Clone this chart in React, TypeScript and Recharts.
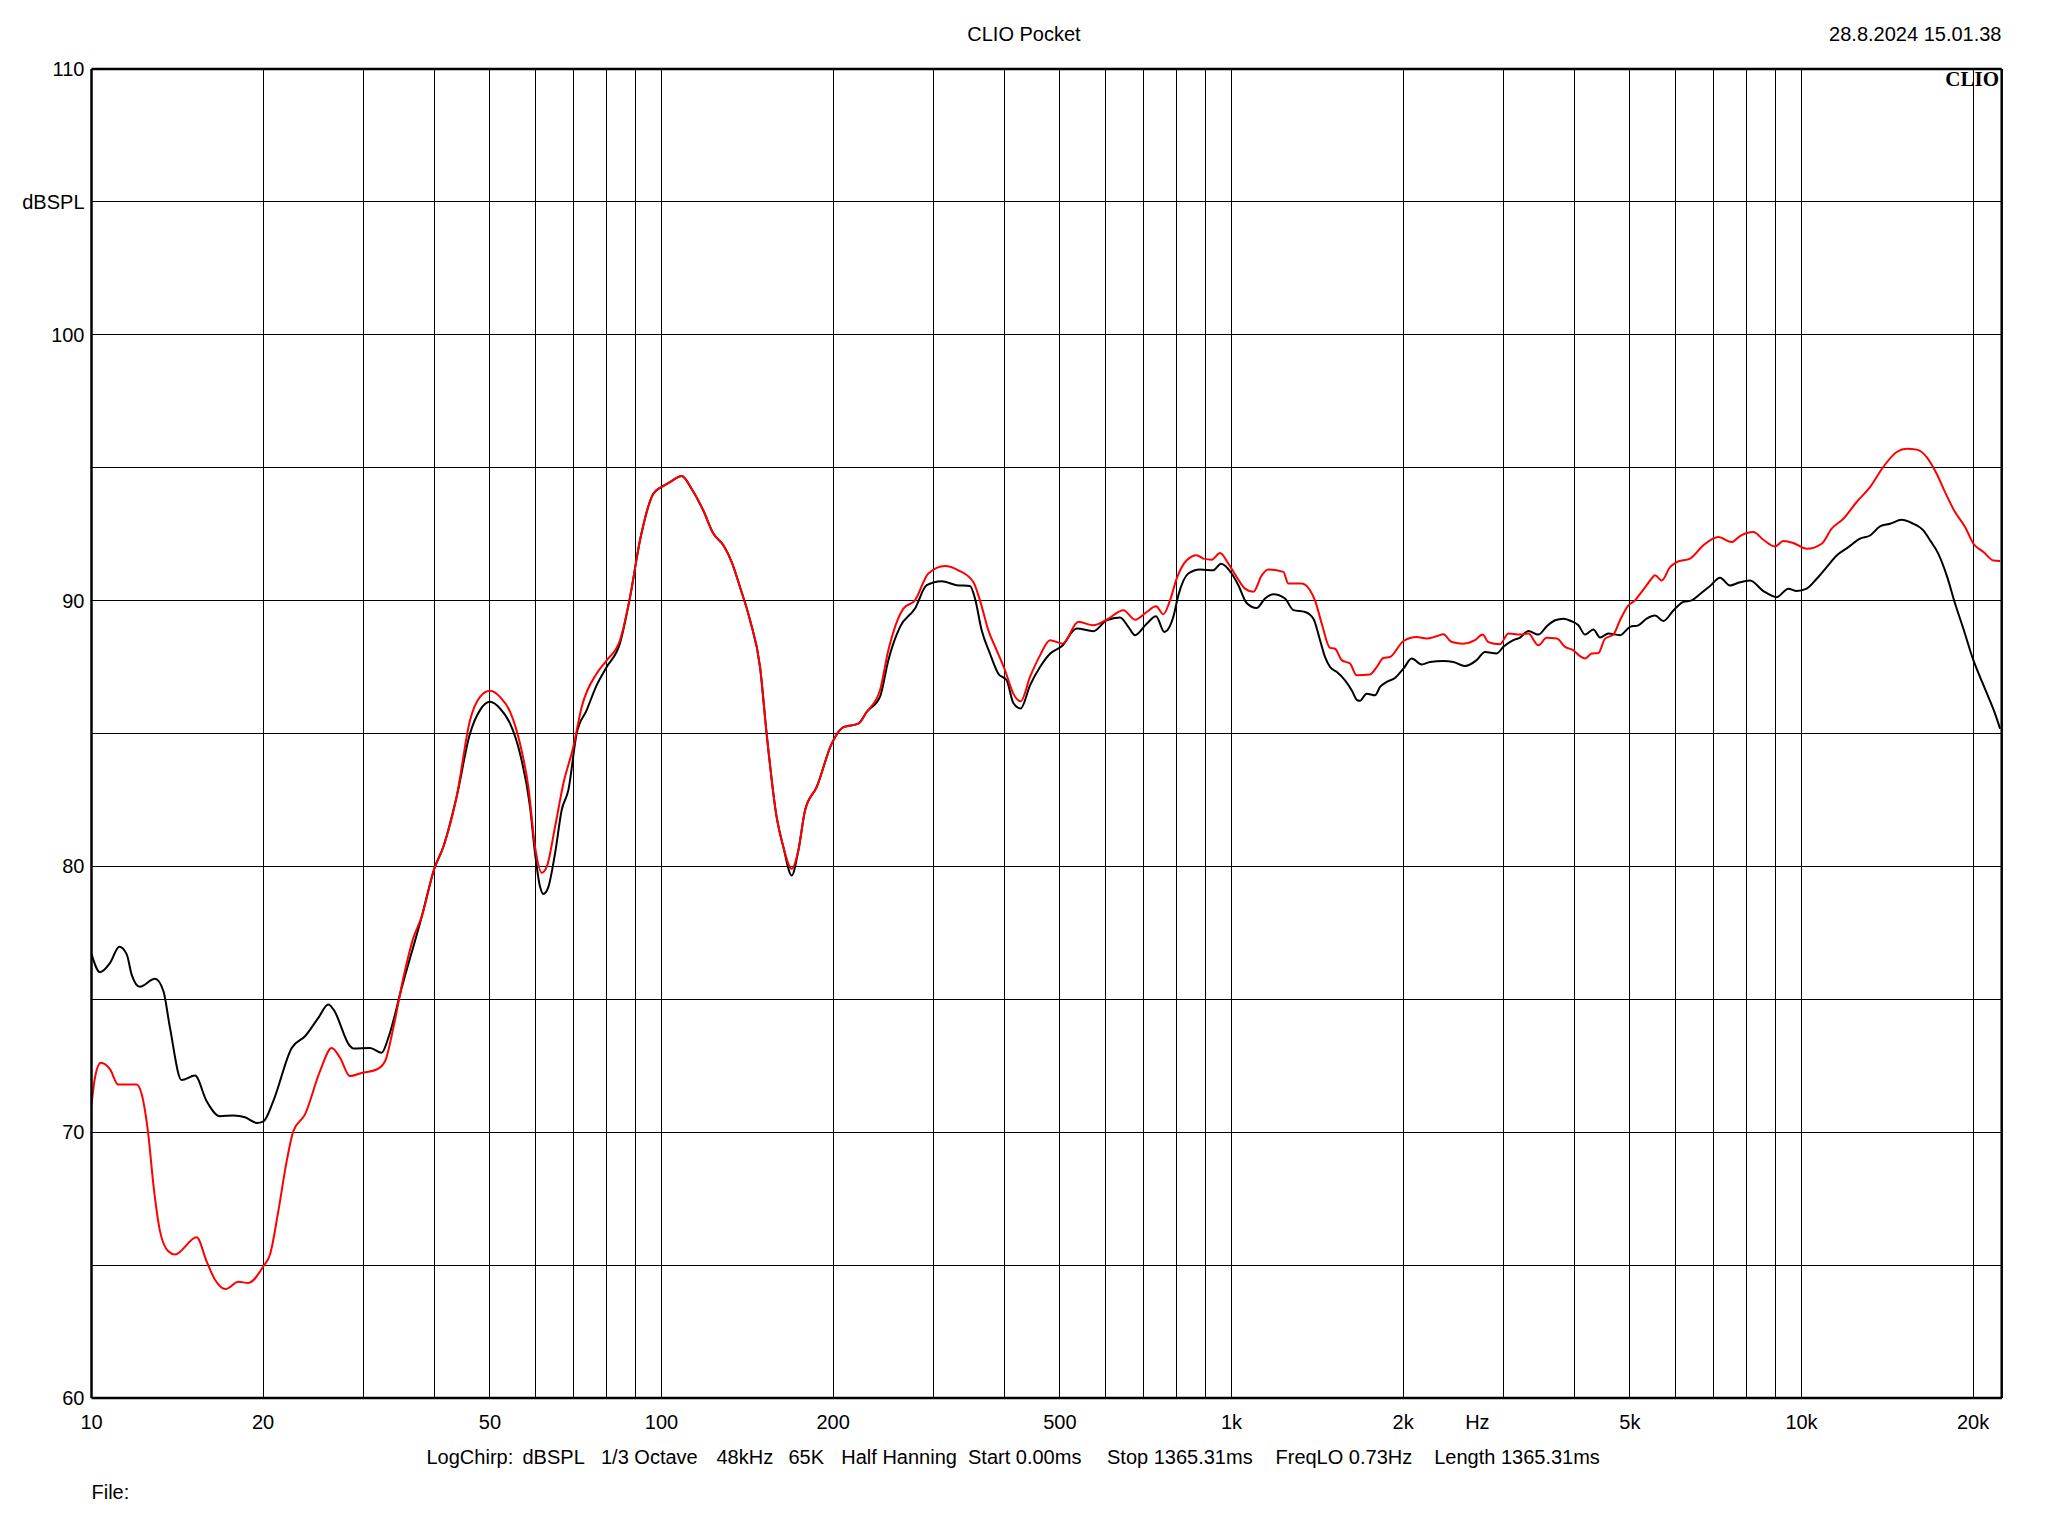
import React from 'react';
import { LineChart, Line, XAxis, YAxis, CartesianGrid } from 'recharts';

const W = 2032;
const H = 1520;
const FONT = '"Liberation Sans", Arial, sans-serif';

const xTicks = [10, 20, 30, 40, 50, 60, 70, 80, 90, 100, 200, 300, 400, 500, 600, 700, 800, 900, 1000, 2000, 3000, 4000, 5000, 6000, 7000, 8000, 9000, 10000, 20000];
const xLabels: Record<number, string> = { 10: '10', 20: '20', 50: '50', 100: '100', 200: '200', 500: '500', 1000: '1k', 2000: '2k', 5000: '5k', 10000: '10k', 20000: '20k' };
const yTicks = [60, 65, 70, 75, 80, 85, 90, 95, 100, 105, 110];
const yLabels: Record<number, string> = { 60: '60', 70: '70', 80: '80', 90: '90', 100: '100', 105: 'dBSPL', 110: '110' };
const yMinorTicks = [60, 61, 62, 63, 64, 65, 66, 67, 68, 69, 70, 71, 72, 73, 74, 75, 76, 77, 78, 79, 80, 81, 82, 83, 84, 85, 86, 87, 88, 89, 90, 91, 92, 93, 94, 95, 96, 97, 98, 99, 100, 101, 102, 103, 104, 105, 106, 107, 108, 109, 110];
const hzTick = [2700];

const blackFreqs = [10, 10.35, 10.78, 11.19, 11.53, 11.76, 12.16, 12.92, 13.37, 13.73, 14.39, 15.19, 15.92, 16.8, 17.74, 18.59, 19.49, 20.03, 20.84, 22.45, 23.69, 25.0, 26.03, 26.57, 28.41, 28.8, 30.81, 32.29, 33.17, 35.01, 37.95, 39.95, 41.43, 43.71, 46.14, 48.04, 50.02, 52.08, 54.23, 56.46, 58.8, 60.0, 61.23, 62.05, 63.32, 65.05, 66.82, 68.64, 70.99, 73.92, 76.97, 80.13, 84.56, 88.06, 91.68, 96.75, 99.93, 103.5, 108.5, 112.9, 118.4, 123.3, 128.4, 132.8, 137.3, 143.0, 148.9, 152.9, 159.2, 163.6, 169.2, 173.8, 178.6, 187.2, 198.9, 208.5, 221.5, 229.1, 241.7, 250.0, 262.1, 278.4, 291.9, 310.1, 329.5, 347.7, 354.8, 364.5, 377.0, 389.9, 403.2, 414.2, 426.7, 443.1, 461.4, 480.4, 503.6, 535.1, 572.3, 604.0, 637.5, 659.3, 677.3, 709.9, 737.2, 762.4, 790.6, 806.8, 840.0, 880.6, 929.3, 958.6, 1000.7, 1028, 1063, 1107, 1145, 1184, 1241, 1284, 1346, 1392, 1430, 1459, 1489, 1529, 1582, 1625, 1662, 1680, 1726, 1786, 1822, 1872, 1936, 2003, 2071, 2156, 2230, 2353, 2450, 2568, 2692, 2784, 2919, 2999, 3122, 3207, 3317, 3454, 3573, 3696, 3822, 3953, 4061, 4171, 4314, 4432, 4583, 4804, 5002, 5173, 5350, 5534, 5724, 5960, 6205, 6418, 6638, 6911, 7195, 7492, 7748, 8121, 8571, 9046, 9483, 9807, 10211, 10632, 11070, 11526, 12082, 12666, 13188, 13732, 14299, 14989, 15607, 16359, 16806, 17381, 17977, 18595, 19231, 20029, 20576, 21279, 21860, 22307];
const blackLevels = [76.7, 76.02, 76.37, 76.98, 76.69, 75.93, 75.47, 75.77, 75.31, 73.93, 71.96, 72.13, 71.17, 70.6, 70.63, 70.56, 70.35, 70.41, 71.17, 73.17, 73.61, 74.3, 74.8, 74.62, 73.24, 73.15, 73.17, 72.99, 73.55, 75.43, 78.1, 79.92, 80.74, 82.62, 85.0, 85.88, 86.19, 85.94, 85.38, 84.25, 82.24, 80.49, 79.23, 78.96, 79.23, 80.49, 82.12, 82.87, 85.0, 85.88, 86.82, 87.5, 88.4, 90.13, 92.27, 94.02, 94.27, 94.46, 94.69, 94.21, 93.39, 92.52, 92.08, 91.45, 90.51, 89.26, 87.5, 85.0, 81.86, 80.73, 79.66, 80.6, 82.11, 82.99, 84.62, 85.24, 85.37, 85.81, 86.38, 87.76, 89.01, 89.7, 90.58, 90.73, 90.58, 90.55, 90.08, 88.88, 88.0, 87.25, 87.0, 86.15, 85.94, 86.81, 87.5, 88.0, 88.28, 88.95, 88.85, 89.26, 89.36, 89.01, 88.7, 89.13, 89.41, 88.82, 89.39, 90.2, 91.02, 91.17, 91.14, 91.39, 91.02, 90.58, 89.91, 89.72, 90.08, 90.24, 90.08, 89.64, 89.57, 89.32, 88.51, 87.88, 87.5, 87.32, 87.0, 86.63, 86.25, 86.23, 86.5, 86.44, 86.75, 86.94, 87.09, 87.44, 87.82, 87.6, 87.69, 87.73, 87.69, 87.54, 87.76, 88.07, 88.01, 88.26, 88.51, 88.61, 88.86, 88.72, 89.03, 89.26, 89.32, 89.22, 89.07, 88.72, 88.91, 88.61, 88.76, 88.7, 89.01, 89.07, 89.32, 89.44, 89.23, 89.63, 89.95, 90.01, 90.25, 90.55, 90.86, 90.57, 90.67, 90.76, 90.36, 90.13, 90.45, 90.36, 90.45, 90.82, 91.26, 91.7, 92.01, 92.33, 92.45, 92.79, 92.89, 93.04, 92.92, 92.64, 92.27, 91.76, 90.95, 89.89, 88.94, 87.75, 87.12, 86.37, 85.74, 85.18];

const redFreqs = [10, 10.14, 10.38, 10.78, 11.14, 12.0, 12.25, 12.58, 12.84, 13.19, 13.64, 14.01, 15.29, 15.92, 16.47, 17.19, 18.1, 18.84, 20.03, 20.57, 21.27, 22.0, 22.6, 23.69, 25.17, 26.39, 27.29, 28.41, 29.78, 31.64, 32.73, 33.85, 35.25, 36.7, 37.95, 39.95, 41.43, 43.71, 46.14, 48.04, 50.02, 52.08, 54.23, 56.46, 58.4, 60.0, 61.64, 62.89, 65.05, 67.27, 70.04, 72.44, 76.97, 80.13, 84.56, 88.06, 91.68, 96.75, 99.93, 103.5, 108.5, 112.9, 118.4, 123.3, 128.4, 132.8, 137.3, 143.0, 148.9, 152.9, 159.2, 163.6, 169.2, 173.8, 178.6, 187.2, 198.9, 208.5, 221.5, 229.1, 241.7, 250.0, 265.7, 278.4, 293.9, 314.3, 331.7, 352.4, 362.0, 374.5, 387.3, 400.5, 414.2, 426.7, 443.1, 461.4, 480.4, 505.6, 538.7, 572.3, 604.0, 646.1, 677.3, 709.9, 737.2, 759.4, 780.1, 801.3, 834.4, 868.8, 892.6, 923.1, 954.7, 987.3, 1021, 1056, 1092, 1130, 1160, 1233, 1258, 1328, 1373, 1401, 1440, 1489, 1519, 1561, 1614, 1658, 1750, 1798, 1847, 1897, 2003, 2113, 2200, 2291, 2353, 2434, 2551, 2674, 2758, 2822, 2958, 3060, 3207, 3317, 3454, 3573, 3721, 3848, 3980, 4088, 4171, 4285, 4402, 4522, 4677, 4804, 4969, 5104, 5243, 5350, 5459, 5534, 5685, 5880, 6040, 6375, 6728, 7147, 7543, 7800, 8231, 8571, 8985, 9292, 9675, 10211, 10849, 11296, 11840, 12496, 13188, 13918, 14689, 15294, 15925, 16581, 17264, 17856, 18595, 19361, 20029, 20854, 21713, 22307];
const redLevels = [71.04, 72.05, 72.61, 72.36, 71.79, 71.79, 71.42, 69.91, 68.03, 66.27, 65.52, 65.4, 66.05, 65.14, 64.45, 64.1, 64.37, 64.33, 64.96, 65.4, 67.03, 68.91, 70.04, 70.67, 72.3, 73.17, 72.8, 72.11, 72.23, 72.36, 72.67, 73.93, 75.81, 77.31, 78.1, 79.92, 80.74, 82.62, 85.5, 86.38, 86.61, 86.38, 85.82, 84.62, 82.99, 80.74, 79.76, 79.98, 81.49, 83.12, 84.5, 86.0, 87.26, 87.75, 88.51, 90.13, 92.27, 94.02, 94.27, 94.46, 94.69, 94.21, 93.39, 92.52, 92.08, 91.45, 90.51, 89.26, 87.5, 85.0, 81.86, 80.73, 79.91, 80.6, 82.11, 82.99, 84.62, 85.24, 85.37, 85.81, 86.63, 88.13, 89.7, 90.01, 91.02, 91.3, 91.14, 90.7, 90.01, 88.88, 88.13, 87.38, 86.5, 86.21, 87.13, 87.94, 88.51, 88.38, 89.2, 89.07, 89.28, 89.64, 89.28, 89.57, 89.79, 89.49, 90.01, 90.83, 91.52, 91.71, 91.58, 91.54, 91.79, 91.39, 90.89, 90.45, 90.33, 90.95, 91.17, 91.08, 90.64, 90.64, 90.39, 90.01, 89.13, 88.22, 88.19, 87.76, 87.63, 87.19, 87.22, 87.5, 87.84, 87.88, 88.48, 88.63, 88.57, 88.66, 88.73, 88.44, 88.38, 88.51, 88.72, 88.44, 88.36, 88.76, 88.72, 88.76, 88.32, 88.6, 88.57, 88.26, 88.13, 87.91, 87.82, 88.01, 88.03, 88.57, 88.72, 89.26, 89.82, 90.01, 90.33, 90.58, 90.83, 90.95, 90.76, 91.26, 91.45, 91.58, 92.08, 92.39, 92.2, 92.43, 92.58, 92.29, 92.04, 92.24, 92.17, 91.95, 92.14, 92.71, 93.08, 93.71, 94.27, 95.03, 95.59, 95.71, 95.68, 95.4, 94.77, 94.08, 93.33, 92.77, 92.14, 91.83, 91.51, 91.49];

const blackData = blackFreqs.map((f, i) => ({ f, v: blackLevels[i] }));
const redData = redFreqs.map((f, i) => ({ f, v: redLevels[i] }));

const XTick = (p: any) => {
  const label = xLabels[p.payload.value];
  if (!label) return <g />;
  return (
    <text x={p.x} y={p.y + 31} textAnchor="middle" fontFamily={FONT} fontSize={20} fill="#000">
      {label}
    </text>
  );
};

const HzTick = (p: any) => (
  <text x={p.x} y={p.y + 30} textAnchor="middle" fontFamily={FONT} fontSize={20} fill="#000">
    Hz
  </text>
);

const YTick = (p: any) => {
  const label = yLabels[p.payload.value];
  if (!label) return <g />;
  return (
    <text x={p.x - 7} y={p.y + 7} textAnchor="end" fontFamily={FONT} fontSize={20} fill="#000">
      {label}
    </text>
  );
};

const frame = { stroke: '#000', strokeWidth: 2.5 };
const minorLine = { stroke: '#000', strokeWidth: 1, shapeRendering: 'crispEdges' };

export default function App() {
  return (
    <div style={{ position: 'relative', width: W, height: H, background: '#fff' }}>
      <LineChart width={W} height={H} margin={{ top: 60, right: 38.3, bottom: 128, left: 82.5 }}>
        <CartesianGrid stroke="#000" strokeWidth={1} shapeRendering="crispEdges" />
        <XAxis
          dataKey="f"
          type="number"
          scale="log"
          domain={[10, 22450]}
          allowDataOverflow
          ticks={xTicks}
          interval={0}
          height={1}
          tickSize={0}
          tickMargin={0}
          tickLine={false}
          axisLine={frame}
          tick={<XTick />}
        />
        <XAxis
          xAxisId="hz"
          dataKey="f"
          type="number"
          scale="log"
          domain={[10, 22450]}
          allowDataOverflow
          ticks={hzTick}
          interval={0}
          height={1}
          tickSize={0}
          tickMargin={0}
          tickLine={false}
          axisLine={false}
          tick={<HzTick />}
        />
        <XAxis
          xAxisId="top"
          orientation="top"
          dataKey="f"
          type="number"
          scale="log"
          domain={[10, 22450]}
          allowDataOverflow
          ticks={[10]}
          height={1}
          tick={false}
          tickLine={false}
          axisLine={frame}
        />
        <YAxis
          type="number"
          domain={[60, 110]}
          allowDataOverflow
          ticks={yTicks}
          interval={0}
          width={1}
          tickSize={0}
          tickMargin={0}
          tickLine={false}
          axisLine={frame}
          tick={<YTick />}
        />
        <YAxis
          yAxisId="l"
          orientation="left"
          mirror
          type="number"
          domain={[60, 110]}
          allowDataOverflow
          ticks={yMinorTicks}
          interval={0}
          width={1}
          tickSize={9}
          tick={false}
          tickLine={minorLine}
          axisLine={false}
        />
        <YAxis
          yAxisId="r"
          orientation="right"
          mirror
          type="number"
          domain={[60, 110]}
          allowDataOverflow
          ticks={yMinorTicks}
          interval={0}
          width={1}
          tickSize={9}
          tick={false}
          tickLine={minorLine}
          axisLine={frame}
        />
        <Line data={blackData} dataKey="v" type="monotone" stroke="#000" strokeWidth={2} dot={false} isAnimationActive={false} />
        <Line data={redData} dataKey="v" type="monotone" stroke="#ff0000" strokeWidth={2} dot={false} isAnimationActive={false} />
      </LineChart>
      <svg width={W} height={H} style={{ position: 'absolute', left: 0, top: 0, pointerEvents: 'none' }}>
        <text x={1016} y={33} textAnchor="middle" fontFamily={FONT} fontSize={20} fill="#000">CLIO Pocket</text>
        <text x={1993.5} y={33} textAnchor="end" fontFamily={FONT} fontSize={20} fill="#000">28.8.2024 15.01.38</text>
        <text x={1991} y={78} textAnchor="end" fontFamily='"Liberation Serif", "Times New Roman", serif' fontWeight="bold" fontSize={21} fill="#000">CLIO</text>
        <text y={1456} fontFamily={FONT} fontSize={20} fill="#000">
          <tspan x={418.5}>LogChirp:</tspan>
          <tspan x={514.5}>dBSPL</tspan>
          <tspan x={593}>1/3 Octave</tspan>
          <tspan x={708.5}>48kHz</tspan>
          <tspan x={780.4}>65K</tspan>
          <tspan x={833.3}>Half Hanning</tspan>
          <tspan x={960}>Start 0.00ms</tspan>
          <tspan x={1099}>Stop 1365.31ms</tspan>
          <tspan x={1267.5}>FreqLO 0.73Hz</tspan>
          <tspan x={1426.2}>Length 1365.31ms</tspan>
        </text>
        <text x={83.5} y={1491} fontFamily={FONT} fontSize={20} fill="#000">File:</text>
      </svg>
    </div>
  );
}
